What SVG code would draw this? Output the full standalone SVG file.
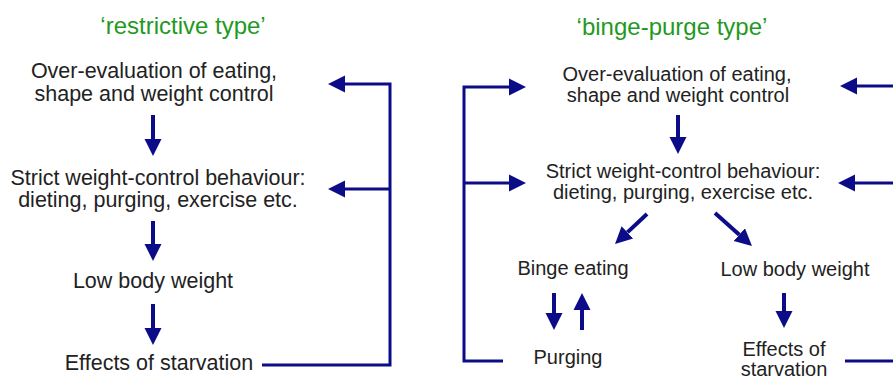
<svg xmlns="http://www.w3.org/2000/svg" width="893" height="379" viewBox="0 0 893 379">
<style>
text{font-family:"Liberation Sans",Arial,sans-serif;fill:#222;text-anchor:middle}
.t{fill:#1f9a1f;font-size:24px}
.l{font-size:21.5px}
.r{font-size:20px}
.c{fill:none;stroke:#0c0c88;stroke-width:3}
.a{fill:none;stroke:#0c0c88;stroke-width:4}
</style>
<defs>
<marker id="h" viewBox="0 0 10 10" markerUnits="userSpaceOnUse" markerWidth="17" markerHeight="19" refX="0" refY="5" orient="auto">
<path d="M0,0 L10,5 L0,10 z" fill="#0c0c88"/>
</marker>
</defs>
<rect width="893" height="379" fill="#fff"/>
<g id="titles">
<text class="t" x="183" y="34">‘restrictive type’</text>
<text class="t" x="672" y="35">‘binge-purge type’</text>
</g>
<g id="L-over"><text class="l" x="154" y="78">Over-evaluation of eating,</text><text class="l" x="154" y="101">shape and weight control</text></g>
<g id="L-strict"><text class="l" x="158" y="185">Strict weight-control behaviour:</text><text class="l" x="158" y="207">dieting, purging, exercise etc.</text></g>
<g id="L-low"><text class="l" x="153" y="288">Low body weight</text></g>
<g id="L-eff"><text class="l" x="159" y="370">Effects of starvation</text></g>
<g id="R-over"><text class="r" x="677" y="81">Over-evaluation of eating,</text><text class="r" x="678" y="102">shape and weight control</text></g>
<g id="R-strict"><text class="r" x="683" y="178">Strict weight-control behaviour:</text><text class="r" x="683" y="199">dieting, purging, exercise etc.</text></g>
<g id="R-binge"><text class="r" x="573" y="275">Binge eating</text></g>
<g id="R-low"><text class="r" x="795" y="276">Low body weight</text></g>
<g id="R-purge"><text class="r" x="568" y="364">Purging</text></g>
<g id="R-eff"><text class="r" x="784" y="356">Effects of</text><text class="r" x="784" y="376">starvation</text></g>
<g id="connectors">
<line class="a" x1="153" y1="115" x2="153" y2="139" marker-end="url(#h)"/>
<line class="a" x1="153" y1="221" x2="153" y2="244" marker-end="url(#h)"/>
<line class="a" x1="153" y1="304" x2="153" y2="328" marker-end="url(#h)"/>
<path class="c" d="M262,365 H390 V84 H345" marker-end="url(#h)"/>
<path class="c" d="M390,189 H345" marker-end="url(#h)"/>
<line class="a" x1="678" y1="115" x2="678" y2="137" marker-end="url(#h)"/>
<line class="a" x1="647" y1="214" x2="627.4" y2="232.4" marker-end="url(#h)"/>
<line class="a" x1="715" y1="213" x2="739.3" y2="234.7" marker-end="url(#h)"/>
<line class="a" x1="554" y1="293" x2="554" y2="313" marker-end="url(#h)"/>
<line class="a" x1="582" y1="330" x2="582" y2="310" marker-end="url(#h)"/>
<line class="a" x1="784" y1="293" x2="784" y2="311" marker-end="url(#h)"/>
<path class="c" d="M503,361 H464 V87 H509" marker-end="url(#h)"/>
<path class="c" d="M464,183 H509" marker-end="url(#h)"/>
<path class="c" d="M893,86 H857" marker-end="url(#h)"/>
<path class="c" d="M893,183 H855" marker-end="url(#h)"/>
<path class="c" d="M845,361 H893"/>
</g>
</svg>
